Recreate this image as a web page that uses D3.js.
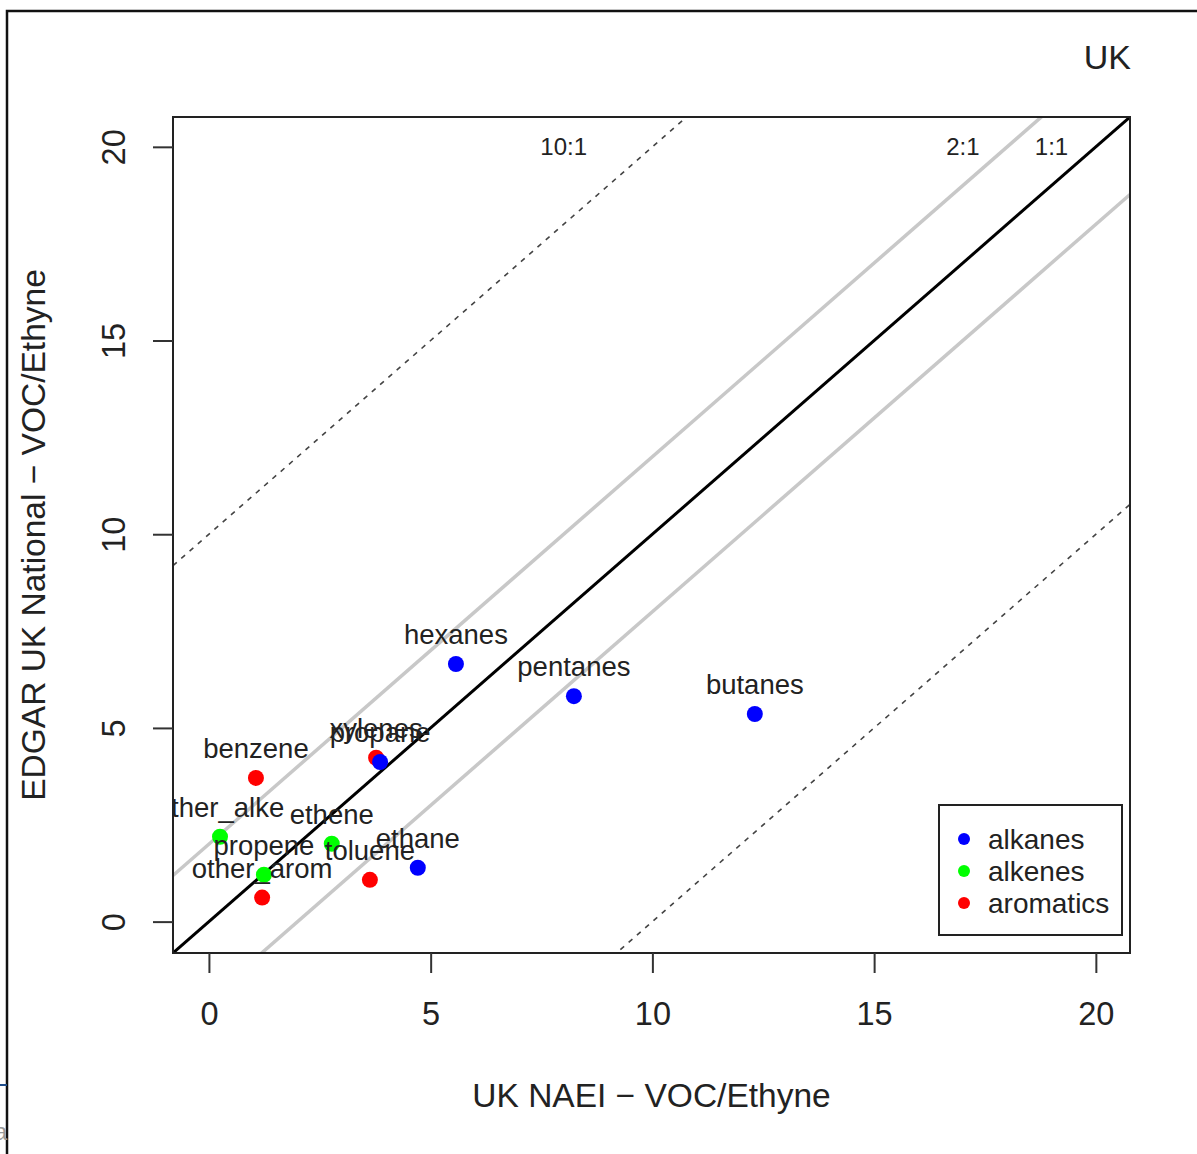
<!DOCTYPE html>
<html>
<head>
<meta charset="utf-8" />
<title>UK VOC/Ethyne</title>
<style>
  body { margin: 0; background: #ffffff; }
  text { font-family: "Liberation Sans", Arial, sans-serif; fill: #222; }
  .axis text { font-size: 32.5px; }
  .axis path, .axis line { stroke: #333; stroke-width: 2; }
  .lbl { font-size: 27.5px; text-anchor: middle; }
</style>
<script src="https://cdnjs.cloudflare.com/ajax/libs/d3/7.8.5/d3.min.js"></script>
</head>
<body>
<div id="graph"></div>
<script>
  // species, NAEI ratio (x), EDGAR ratio (y), group
  var species = ['hexanes', 'pentanes', 'butanes', 'xylenes', 'propane', 'benzene',
                 'other_alke', 'ethene', 'propene', 'other_arom', 'toluene', 'ethane'];
  var naei  = [5.57, 8.23, 12.31, 3.77, 3.86, 1.06, 0.25, 2.77, 1.24, 1.20, 3.63, 4.71];
  var edgar = [6.65, 5.82, 5.36, 4.23, 4.12, 3.71, 2.19, 2.01, 1.21, 0.62, 1.08, 1.39];
  var group = ['alkanes', 'alkanes', 'alkanes', 'aromatics', 'alkanes', 'aromatics',
               'alkenes', 'alkenes', 'alkenes', 'aromatics', 'aromatics', 'alkanes'];

  var groups = ['alkanes', 'alkenes', 'aromatics'];
  var groupColors = ['#0000ff', '#00ff00', '#ff0000'];
  var ticks = [0, 5, 10, 15, 20];

  // ratio guide lines: offset from 1:1 line
  var guideOffsets = [10, 2, 0, -2, -10];
  var guideLabels = [{ text: '10:1', x: 8, y: 20 }, { text: '2:1', x: 17, y: 20 }, { text: '1:1', x: 19, y: 20 }];

  (function () {
    var w = 1197, h = 1154;
    var pl = 173, pr = 1130, pt = 117, pb = 953;
    var lim = [-0.81, 20.77];

    var svg = d3.select('#graph').append('svg')
      .attr('width', w)
      .attr('height', h);

    // outer frame of the figure
    svg.append('path')
      .attr('d', 'M7,1154 V11 H1197')
      .attr('fill', 'none')
      .attr('stroke', '#111')
      .attr('stroke-width', 2.5);
    svg.append('line')
      .attr('x1', 0).attr('x2', 7).attr('y1', 1085).attr('y2', 1085)
      .attr('stroke', '#1f4e8c').attr('stroke-width', 2);
    svg.append('text')
      .attr('x', -6).attr('y', 1140)
      .style('font-size', '24px').style('fill', '#999')
      .text('a');

    var x = d3.scaleLinear().domain(lim).range([pl, pr]);
    var y = d3.scaleLinear().domain(lim).range([pb, pt]);

    svg.append('defs').append('clipPath').attr('id', 'clip')
      .append('rect')
      .attr('x', pl).attr('y', pt)
      .attr('width', pr - pl).attr('height', pb - pt);

    var plot = svg.append('g').attr('clip-path', 'url(#clip)');

    plot.selectAll('line.guide')
      .data(guideOffsets)
      .enter().append('line')
      .attr('class', 'guide')
      .attr('x1', d => x(lim[0]))
      .attr('y1', d => y(lim[0] + d))
      .attr('x2', d => x(lim[1]))
      .attr('y2', d => y(lim[1] + d))
      .attr('stroke', d => d === 0 ? '#000' : (Math.abs(d) === 2 ? '#c8c8c8' : '#444'))
      .attr('stroke-width', d => d === 0 ? 3 : (Math.abs(d) === 2 ? 3.5 : 1.6))
      .attr('stroke-dasharray', d => Math.abs(d) === 10 ? '5,6' : null);

    svg.selectAll('text.guide')
      .data(guideLabels)
      .enter().append('text')
      .attr('class', 'guide')
      .attr('x', d => x(d.x))
      .attr('y', d => y(d.y) + 8)
      .attr('text-anchor', 'middle')
      .style('font-size', '24px')
      .text(d => d.text);

    var pts = species.map((s, i) => ({ name: s, x: naei[i], y: edgar[i], g: group[i] }));
    var color = d3.scaleOrdinal().domain(groups).range(groupColors);

    plot.selectAll('circle')
      .data(pts)
      .enter().append('circle')
      .attr('cx', d => x(d.x))
      .attr('cy', d => y(d.y))
      .attr('r', 8)
      .attr('fill', d => color(d.g));

    plot.selectAll('text.lbl')
      .data(pts)
      .enter().append('text')
      .attr('class', 'lbl')
      .attr('x', d => x(d.x))
      .attr('y', d => y(d.y) - 20)
      .text(d => d.name);

    svg.append('rect')
      .attr('x', pl).attr('y', pt)
      .attr('width', pr - pl).attr('height', pb - pt)
      .attr('fill', 'none').attr('stroke', '#222').attr('stroke-width', 2);

    // axes
    var xAxis = svg.append('g')
      .attr('class', 'axis')
      .attr('transform', `translate(0, ${pb})`)
      .call(d3.axisBottom(x).tickValues(ticks).tickSize(20).tickPadding(29).tickSizeOuter(0));
    xAxis.select('.domain').remove();

    var yAxis = svg.append('g')
      .attr('class', 'axis')
      .attr('transform', `translate(${pl}, 0)`)
      .call(d3.axisLeft(y).tickValues(ticks).tickSize(20).tickSizeOuter(0));
    yAxis.select('.domain').remove();
    yAxis.selectAll('.tick text')
      .attr('x', 0)
      .attr('text-anchor', 'middle')
      .attr('transform', 'translate(-59, 0) rotate(-90)')
      .attr('dy', '0.35em');

    svg.append('text')
      .attr('x', (pl + pr) / 2)
      .attr('y', 1107)
      .attr('text-anchor', 'middle')
      .style('font-size', '33.5px')
      .text('UK NAEI \u2212 VOC/Ethyne');

    svg.append('text')
      .attr('transform', `translate(45, ${(pt + pb) / 2}) rotate(-90)`)
      .attr('text-anchor', 'middle')
      .style('font-size', '33.5px')
      .text('EDGAR UK National \u2212 VOC/Ethyne');

    svg.append('text')
      .attr('x', 1131).attr('y', 69)
      .attr('text-anchor', 'end')
      .style('font-size', '34px')
      .text('UK');

    // legend
    var legend = svg.append('g').attr('transform', 'translate(939, 805)');
    legend.append('rect')
      .attr('width', 183).attr('height', 130)
      .attr('fill', '#fff').attr('stroke', '#222').attr('stroke-width', 2);
    var items = legend.selectAll('g.item')
      .data(groups)
      .enter().append('g')
      .attr('transform', (d, i) => `translate(0, ${34 + i * 32})`);
    items.append('circle')
      .attr('cx', 25).attr('r', 6)
      .attr('fill', d => color(d));
    items.append('text')
      .attr('x', 49).attr('dy', '0.35em')
      .style('font-size', '28px')
      .text(d => d);
  })();
</script>
</body>
</html>
